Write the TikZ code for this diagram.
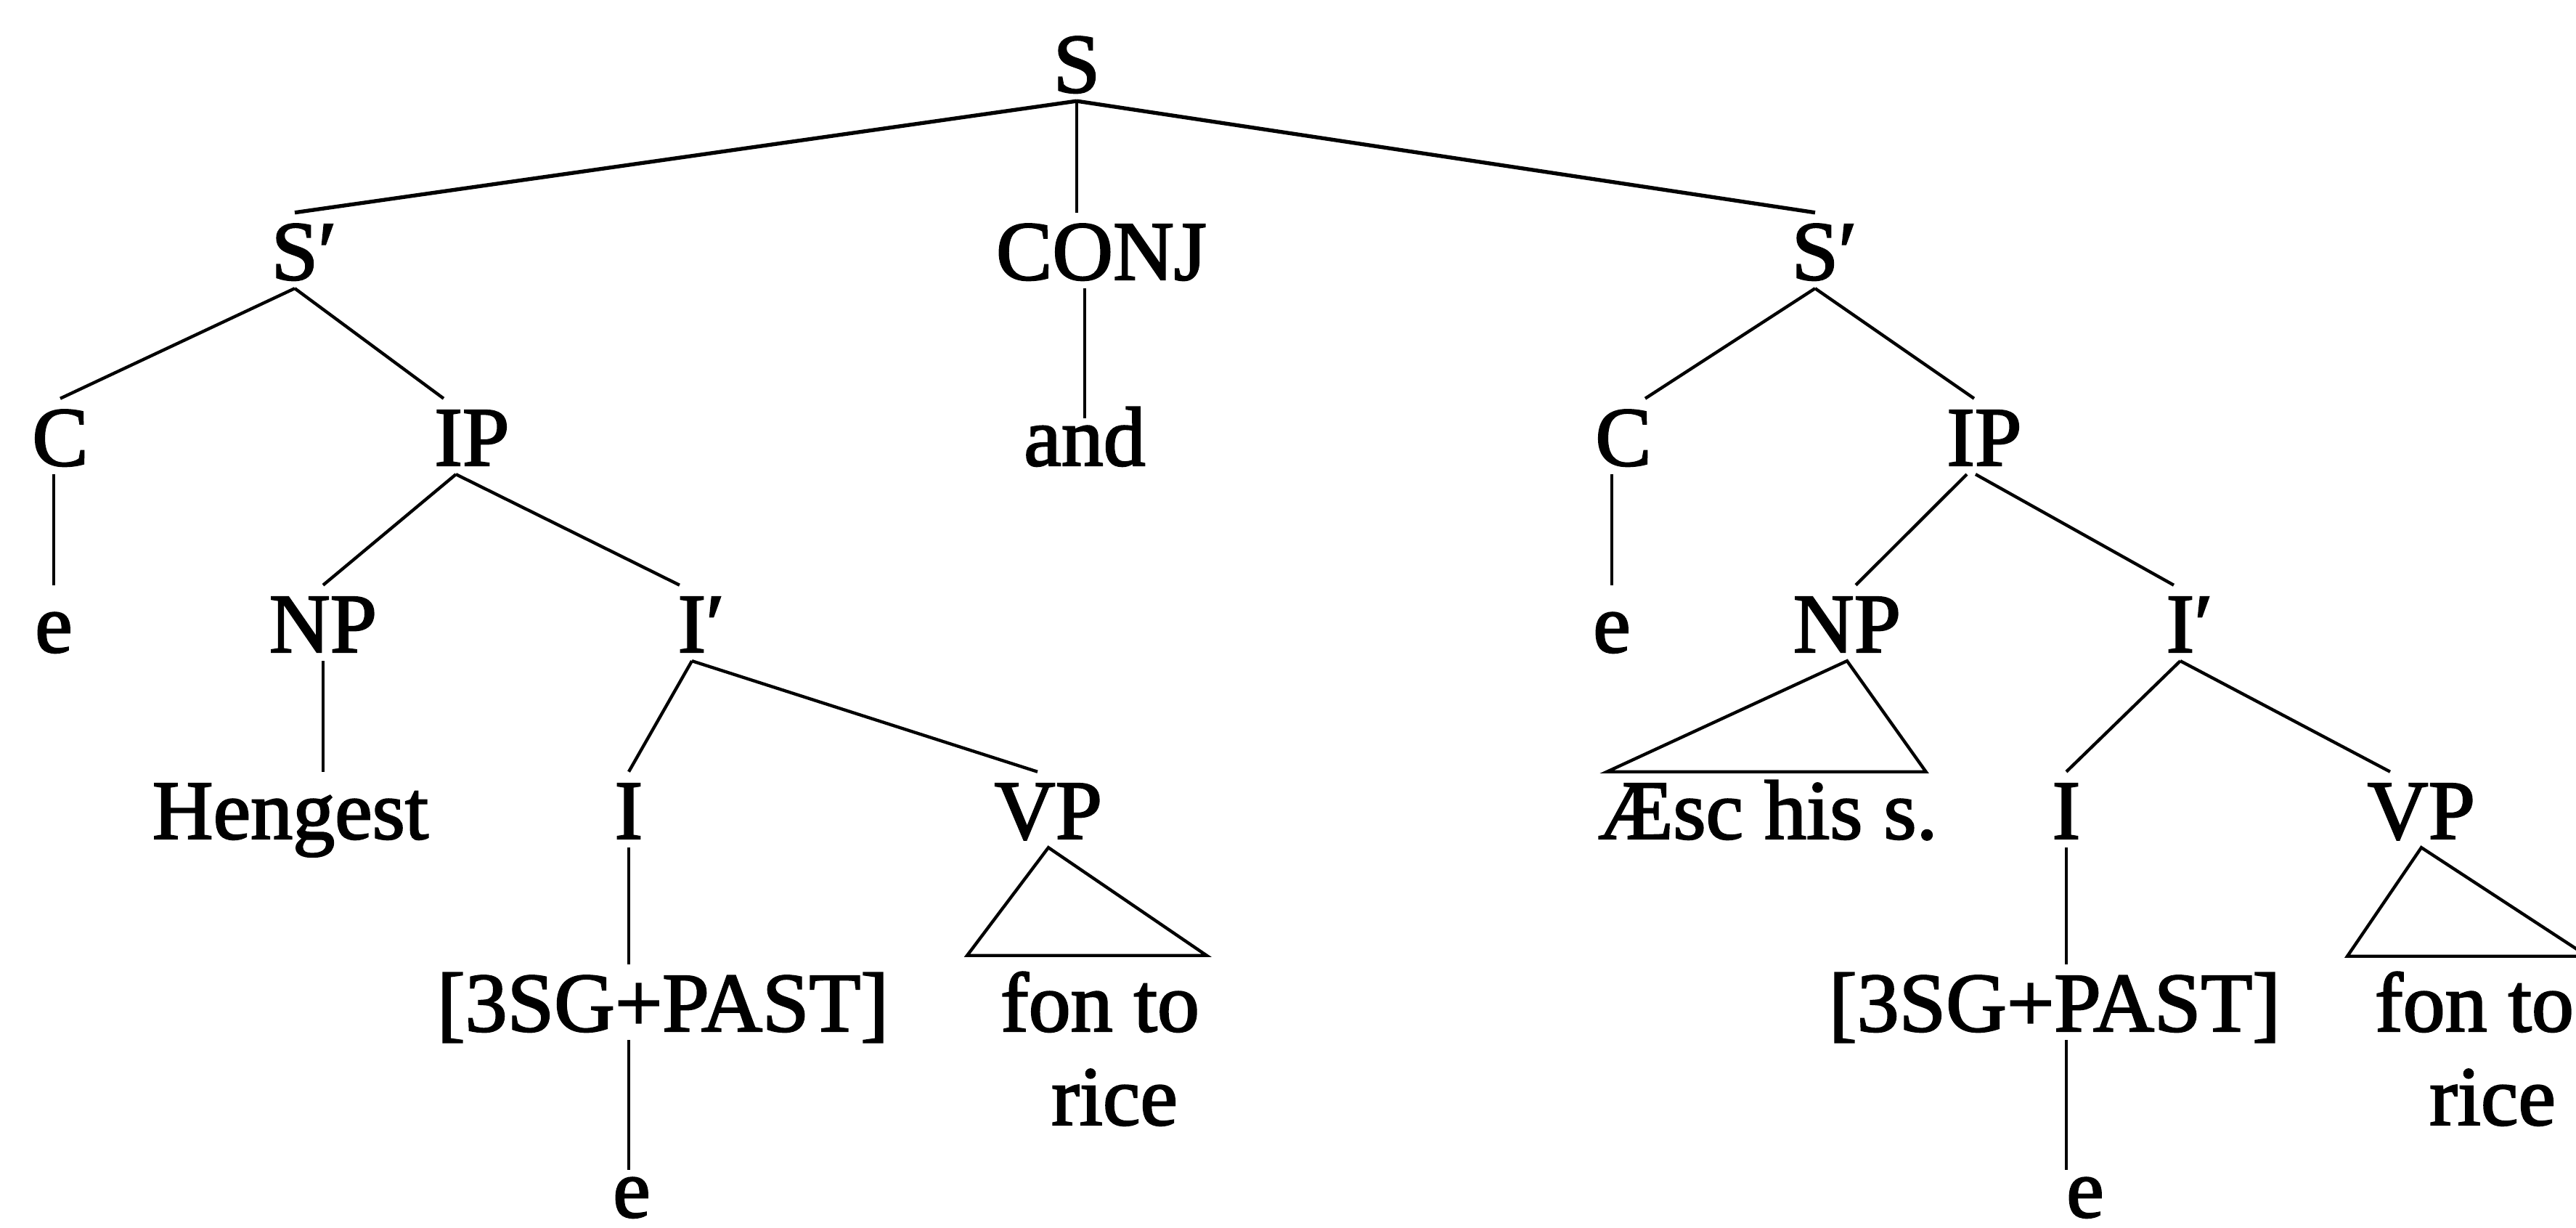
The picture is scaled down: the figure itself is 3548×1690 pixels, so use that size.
\documentclass[tikz,border=0pt]{standalone}
\usepackage{fontspec}
\setmainfont{Liberation Serif}[FakeBold=2]
\begin{document}
\fontsize{12}{14}\selectfont
\begin{tikzpicture}[x=0.10345pt,y=-0.10345pt,
  lab/.style={anchor=base, inner sep=0pt, outer xsep=0pt, outer ysep=1.25pt,
              text height=8.3pt, text depth=0pt},
  low/.style={text height=5.5pt},
  edge/.style={line width=0.45pt},
  topedge/.style={line width=0.55pt}]
\useasboundingbox (0,0) rectangle (3548,1690);
% row 0
\node[lab] (S) at (1483,127) {S};
% row 1
\node[lab] (Sl) at (406,385) {S\rlap{′}};
\node[lab] (conj) at (1517,385) {CONJ};
\node[lab] (Sr) at (2500,385) {S\rlap{′}};
% row 2
\node[lab] (Cl) at (83,641) {C};
\node[lab] (IPl) at (650,641) {IP};
\node[lab,low] (and) at (1494,641) {and};
\node[lab] (Cr) at (2236,641) {C};
\node[lab] (IPr) at (2733,641) {IP};
% row 3
\node[lab] (el) at (74,898) {e};
\node[lab] (NPl) at (445,898) {NP};
\node[lab] (Ibl) at (953,898) {I\rlap{′}};
\node[lab] (er) at (2220,898) {e};
\node[lab] (NPr) at (2544,898) {NP};
\node[lab] (Ibr) at (3003,898) {I\rlap{′}};
% row 4
\node[lab] (heng) at (400,1155) {Hengest};
\node[lab] (Il) at (866,1155) {I};
\node[lab] (VPl) at (1444,1155) {VP};
\node[lab] (aesc) at (2435,1155) {Æsc his s.};
\node[lab] (Ir) at (2846,1155) {I};
\node[lab] (VPr) at (3335,1155) {VP};
% row 5
\node[lab] (sgl) at (913,1420) {[3SG+PAST]};
\node[lab] (fonl) at (1515,1420) {fon to};
\node[lab] (ricel) at (1535,1549) {rice};
\node[lab] (sgr) at (2830,1420) {[3SG+PAST]};
\node[lab] (fonr) at (3408,1420) {fon to};
\node[lab] (ricer) at (3433,1549) {rice};
% row 6
\node[lab,low] (ebl) at (870,1676) {e};
\node[lab,low] (ebr) at (2872,1676) {e};

% top
\draw[topedge] (S.south) -- (Sl.north);
\draw[edge] (S.south) -- (S.south |- conj.north);
\draw[topedge] (S.south) -- (Sr.north);
\draw[edge] (and.north |- conj.south) -- (and.north);
% left clause
\draw[edge] (Sl.south) -- (Cl.north);
\draw[edge] (Sl.south) -- ([shift={(-39,0)}]IPl.north);
\draw[edge] (el.north |- Cl.south) -- (el.north);
\draw[edge] ([shift={(-22,0)}]IPl.south) -- (NPl.north);
\draw[edge] ([shift={(-22,0)}]IPl.south) -- ([shift={(-17,0)}]Ibl.north);
\draw[edge] (NPl.south) -- (NPl.south |- heng.north);
\draw[edge] (Ibl.south) -- (Il.north);
\draw[edge] (Ibl.south) -- ([shift={(-15,0)}]VPl.north);
\draw[edge] (Il.south) -- (Il.south |- sgl.north);
\draw[edge] (Il.south |- sgl.south) -- (Il.south |- ebl.north);
\draw[edge] (VPl.south) -- ([shift={(-46,-12)}]fonl.north west)
  -- ([shift={(10,-12)}]fonl.north east) -- cycle;
% right clause
\draw[edge] (Sr.south) -- ([shift={(30,0)}]Cr.north);
\draw[edge] (Sr.south) -- ([shift={(-14,0)}]IPr.north);
\draw[edge] (er.north |- Cr.south) -- (er.north);
\draw[edge] ([shift={(-24,0)}]IPr.south) -- ([shift={(12,0)}]NPr.north);
\draw[edge] ([shift={(-12,0)}]IPr.south) -- ([shift={(-9,0)}]Ibr.north);
\draw[edge] (NPr.south) -- ([shift={(12,0)}]aesc.north west)
  -- ([shift={(-16,0)}]aesc.north east) -- cycle;
\draw[edge] (Ibr.south) -- (Ir.north);
\draw[edge] (Ibr.south) -- ([shift={(-43,0)}]VPr.north);
\draw[edge] (Ir.south) -- (Ir.south |- sgr.north);
\draw[edge] (Ir.south |- sgr.south) -- (Ir.south |- ebr.north);
\draw[edge] (VPr.south) -- ([shift={(-38,-11)}]fonr.north west)
  -- ([shift={(19,-11)}]fonr.north east) -- cycle;
\end{tikzpicture}
\end{document}
